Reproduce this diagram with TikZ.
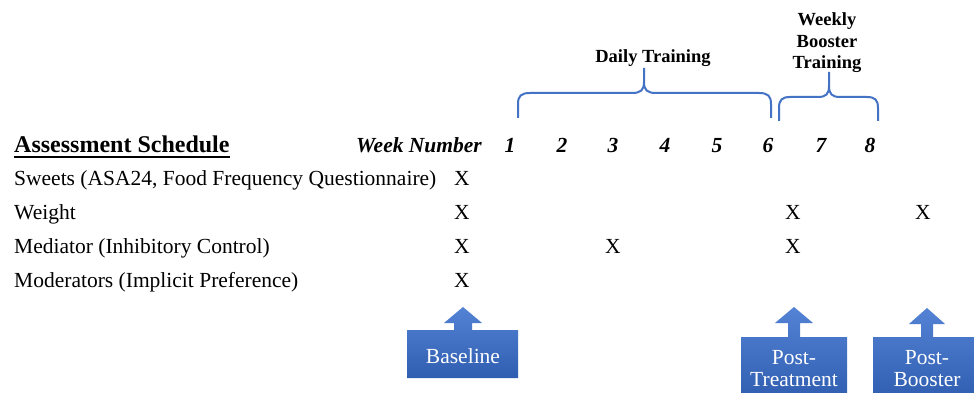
\documentclass[tikz,border=0pt]{standalone}
\usepackage{fontspec}
\setmainfont{Liberation Serif}
\definecolor{brk}{HTML}{4472C4}
\definecolor{ctop}{RGB}{84,130,213}
\definecolor{cbot}{RGB}{47,93,175}
\begin{document}
\begin{tikzpicture}[x=1pt,y=-1pt,
  rowtext/.style={inner sep=0pt,anchor=base west,font=\fontsize{21.5}{25}\selectfont},
  xmark/.style={inner sep=0pt,anchor=base,font=\fontsize{21.5}{25}\selectfont},
  weeknum/.style={inner sep=0pt,anchor=base,font=\fontsize{21.5}{25}\selectfont\bfseries\itshape},
  headtext/.style={inner sep=0pt,align=center,font=\fontsize{18.5}{21.5}\selectfont\bfseries},
  bracket/.style={draw=brk,line width=2pt},
  callout/.style={top color=ctop,bottom color=cbot,draw=none},
  callouttext/.style={inner sep=0pt,align=center,text=white,font=\fontsize{21.5}{22}\selectfont}]
\path[use as bounding box] (0,0) rectangle (974,393);
\clip (0,0) rectangle (974,393);
\fill[white] (0,0) rectangle (974,393);

% title
\node[inner sep=0pt,anchor=base west,font=\fontsize{24}{28}\selectfont\bfseries] (title) at (14,152) {Assessment Schedule};
\draw[line width=2pt] ([yshift=-4.5pt]title.base west) -- ([yshift=-4.5pt]title.base east);
\node[weeknum,anchor=base east] (wk) at (482,152) {Week Number};
\node[weeknum] (w1) at (510,152) {1};
\node[weeknum] (w2) at (562,152) {2};
\node[weeknum] (w3) at (613,152) {3};
\node[weeknum] (w4) at (665,152) {4};
\node[weeknum] (w5) at (717,152) {5};
\node[weeknum] (w6) at (768,152) {6};
\node[weeknum] (w7) at (821,152) {7};
\node[weeknum] (w8) at (870,152) {8};

% rows
\node[rowtext] (r1) at (14,185) {Sweets (ASA24, Food Frequency Questionnaire)};
\node[rowtext] (r2) at (14,219) {Weight};
\node[rowtext] (r3) at (14,253) {Mediator (Inhibitory Control)};
\node[rowtext] (r4) at (14,287) {Moderators (Implicit Preference)};

\node[xmark] (x11) at (462,185) {X};
\node[xmark] (x21) at (462,219) {X};
\node[xmark] (x22) at (793,219) {X};
\node[xmark] (x23) at (923,219) {X};
\node[xmark] (x31) at (462,253) {X};
\node[xmark] (x32) at (613,253) {X};
\node[xmark] (x33) at (793,253) {X};
\node[xmark] (x41) at (462,287) {X};

% headings
\node[headtext,anchor=base] (daily) at (653,63) {Daily Training};
\node[headtext] (weekly) at (827,43) {Weekly\\Booster\\Training};

% brackets
\draw[bracket] (518,118) -- (518,104) .. controls (518,96) and (521,93) .. (530,93)
  -- (632,93) .. controls (641,93) and (644,90) .. (644,82) -- (644,68);
\draw[bracket] (644,82) .. controls (644,90) and (647,93) .. (656,93)
  -- (759,93) .. controls (768,93) and (771,96) .. (771,104) -- (771,118);
\draw[bracket] (779,121) -- (779,108) .. controls (779,100) and (782,97) .. (790,97)
  -- (818,97) .. controls (826,97) and (829,94) .. (829,86) -- (829,72);
\draw[bracket] (829,86) .. controls (829,94) and (832,97) .. (840,97)
  -- (867,97) .. controls (875,97) and (878,100) .. (878,108) -- (878,121);

% callouts
\path[callout] (407,378) -- (407,330) -- (454,330) -- (454,323) -- (444,323) -- (463,307)
  -- (482,323) -- (472,323) -- (472,330) -- (518,330) -- (518,378) -- cycle;
\node[callouttext,anchor=base] (base) at (463,363) {Baseline};

\path[callout] (741,400) -- (741,337) -- (788,337) -- (788,323) -- (775,323) -- (794,307)
  -- (813,323) -- (800,323) -- (800,337) -- (847,337) -- (847,400) -- cycle;
\node[callouttext] (posttreat) at (794,369) {Post-\\Treatment};

\path[callout] (873,400) -- (873,337) -- (921,337) -- (921,324) -- (909,324) -- (927,308)
  -- (945,324) -- (933,324) -- (933,337) -- (981,337) -- (981,400) -- cycle;
\node[callouttext] (postboost) at (927,369) {Post-\\Booster};
\end{tikzpicture}
\end{document}
